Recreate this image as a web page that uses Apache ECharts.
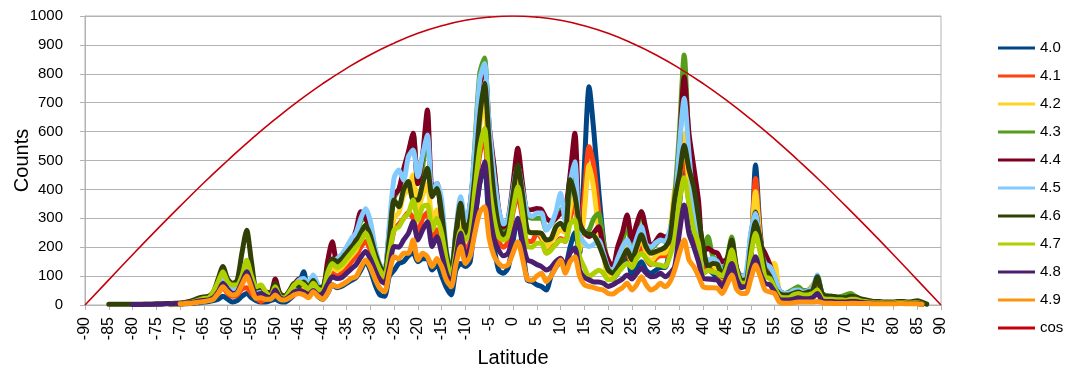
<!DOCTYPE html>
<html>
<head>
<meta charset="utf-8">
<script src="https://cdn.jsdelivr.net/npm/echarts@6/dist/echarts.min.js"></script>
<style>
  html, body { margin: 0; padding: 0; background: #ffffff; }
  #chart { width: 1079px; height: 374px; }
</style>
</head>
<body>
<div id="chart"></div>
<script>
// Latitude bins, one per degree
const latitudes = [];
for (let d = -85; d <= 87; d++) latitudes.push(d);

const seriesNames = ['4.0', '4.1', '4.2', '4.3', '4.4', '4.5', '4.6', '4.7', '4.8', '4.9'];
const seriesColors = ['#004586', '#ff420e', '#ffd320', '#579d1c', '#7e0021', '#83caff', '#314004', '#aecf00', '#4b1f6f', '#ff950e'];

// Counts per latitude bin (-85 .. 87), one array per magnitude
const counts40 = [
  null,null,null,null,null,null,null,null,null,null,
  null,null,null,1,2,3,4,5,6,8,
  10,12,15,20,30,20,10,15,30,40,
  25,15,10,10,15,20,12,10,20,35,
  70,115,40,50,30,20,40,70,60,65,
  75,85,95,120,150,120,70,35,30,100,
  120,144,150,170,180,150,160,160,121,140,
  100,60,35,120,144,133,150,300,420,480,
  280,200,120,110,130,220,300,200,86,81,
  70,64,52,100,130,150,140,200,250,180,
  480,755,600,400,230,110,90,110,140,180,
  100,130,150,120,110,120,130,130,200,300,
  350,500,350,250,180,110,120,110,90,70,
  90,140,80,60,70,150,484,250,120,100,
  60,30,25,25,30,35,30,35,45,55,
  18,15,15,12,12,10,12,12,10,8,
  6,5,5,5,5,5,5,5,5,5,
  5,2,null
];
const counts41 = [
  null,null,null,null,null,null,null,null,null,null,
  null,null,null,2,3,4,5,6,8,12,
  15,18,25,40,60,40,30,35,55,60,
  40,25,12,20,25,40,25,20,30,45,
  60,55,45,60,40,35,80,110,100,110,
  130,150,170,200,220,190,140,100,80,170,
  260,280,300,320,300,250,300,320,230,260,
  200,120,80,180,250,190,220,380,520,580,
  380,320,220,200,220,320,380,300,220,220,
  250,230,180,200,210,230,220,300,350,200,
  380,548,480,330,200,120,100,130,160,190,
  130,170,200,160,140,160,170,170,220,350,
  420,520,380,280,200,130,130,120,110,85,
  110,160,90,70,80,180,438,230,130,110,
  80,40,30,30,40,40,35,45,60,70,
  25,22,20,18,18,16,18,18,13,10,
  9,7,7,6,6,6,7,7,6,6,
  7,3,null
];
const counts42 = [
  null,null,null,null,null,null,null,null,null,null,
  null,null,null,2,3,4,5,6,9,14,
  18,20,28,50,80,55,45,50,80,100,
  70,35,40,35,30,55,30,25,35,55,
  70,65,55,70,50,45,100,130,120,130,
  150,170,190,230,250,220,160,115,100,200,
  300,320,380,400,450,330,380,420,300,330,
  250,150,100,220,300,230,260,450,620,700,
  450,380,260,230,250,350,430,330,250,250,
  250,240,200,220,240,260,250,330,400,190,
  320,484,400,260,180,100,100,140,170,200,
  150,190,230,180,150,170,180,180,250,398,
  450,594,420,320,230,150,150,140,120,95,
  120,180,100,80,90,200,392,220,144,140,
  144,45,35,35,45,45,40,50,70,80,
  30,25,22,20,20,18,20,20,15,12,
  10,8,8,7,7,7,8,8,7,7,
  8,4,null
];
const counts43 = [
  null,null,null,null,null,null,null,null,null,null,
  null,null,null,3,4,5,6,8,12,18,
  22,25,35,60,100,70,55,60,100,130,
  100,45,50,45,40,65,35,30,45,65,
  85,80,70,85,65,55,120,150,140,155,
  180,210,240,290,300,260,190,130,115,250,
  370,400,450,520,590,420,480,600,380,410,
  300,170,110,240,350,270,330,560,800,855,
  580,480,320,260,290,400,500,400,310,300,
  300,300,260,280,300,330,300,400,450,260,
  250,260,300,317,220,150,120,180,220,280,
  200,260,323,240,195,210,225,220,250,375,
  600,865,560,420,320,180,236,170,150,120,
  160,235,120,95,100,230,323,200,150,130,
  95,50,40,45,55,63,50,50,60,90,
  40,32,30,28,30,35,40,30,20,15,
  12,10,10,8,8,8,10,10,8,8,
  10,5,null
];
const counts44 = [
  null,null,null,null,null,null,null,null,null,null,
  null,null,null,3,4,5,6,8,12,18,
  22,25,35,60,100,70,55,60,100,130,
  100,45,50,45,40,90,35,30,45,70,
  90,80,70,90,65,55,150,219,150,160,
  185,215,260,323,300,260,190,135,115,260,
  380,400,470,530,594,420,520,675,400,420,
  300,170,110,240,360,270,350,520,760,820,
  620,480,330,270,300,420,542,420,329,330,
  334,330,300,290,300,318,330,450,594,290,
  250,237,250,271,200,156,130,200,250,311,
  225,280,323,260,202,220,242,235,250,330,
  550,790,594,478,363,184,196,185,179,150,
  160,200,125,100,100,240,320,210,179,140,
  90,50,40,40,45,50,45,50,60,95,
  38,30,28,25,25,22,25,25,20,15,
  12,10,10,8,8,8,10,10,8,8,
  10,5,null
];
const counts45 = [
  null,null,null,null,null,null,null,null,null,null,
  null,null,null,3,4,5,6,8,12,18,
  22,25,35,70,100,70,55,60,100,140,
  100,45,50,40,30,65,35,30,45,65,
  86,92,75,104,70,55,110,150,160,175,
  200,230,250,300,334,290,200,140,121,280,
  440,467,432,513,536,444,520,588,375,421,
  363,190,121,260,375,290,350,550,780,836,
  620,450,330,280,300,400,480,400,320,306,
  318,318,260,280,320,387,290,420,496,240,
  215,202,210,225,180,130,120,160,200,225,
  180,230,271,210,200,215,225,220,260,330,
  550,715,525,340,248,144,156,160,150,110,
  150,190,120,98,110,250,317,200,144,133,
  100,50,40,40,50,52,45,50,60,104,
  40,30,28,25,25,22,25,25,20,15,
  12,10,10,8,8,8,10,10,8,8,
  10,5,null
];
const counts46 = [
  3,3,3,3,3,3,3,3,3,3,
  4,4,5,5,6,7,9,12,18,25,
  28,30,45,90,133,90,75,85,180,259,
  150,58,62,45,35,75,40,30,50,75,
  65,80,60,85,60,62,125,160,150,160,
  180,200,220,250,277,240,180,135,110,230,
  363,340,400,427,363,363,420,473,375,403,
  317,179,110,250,352,248,300,450,650,767,
  560,380,271,240,260,380,484,380,259,250,
  250,248,225,230,270,283,260,433,380,280,
  250,245,240,210,168,122,110,130,160,191,
  156,200,243,200,179,185,191,200,230,363,
  450,553,470,409,306,202,133,144,140,98,
  150,225,130,86,86,200,288,225,121,100,
  60,40,35,35,40,45,40,45,50,98,
  40,30,30,28,25,25,30,28,22,18,
  15,12,12,10,10,10,12,12,10,12,
  15,10,3
];
const counts47 = [
  null,null,null,null,null,null,null,null,null,null,
  null,null,null,3,4,5,6,8,12,18,
  23,25,46,80,115,80,69,70,100,155,
  100,63,69,45,29,63,29,25,45,69,
  80,70,55,75,55,50,110,144,130,140,
  160,180,200,220,248,210,160,121,98,180,
  260,271,300,317,363,294,340,346,259,300,
  248,156,98,180,259,225,250,400,540,611,
  420,300,236,225,240,330,409,320,202,200,
  214,214,179,190,210,225,220,280,295,168,
  130,98,110,120,110,87,90,110,130,144,
  130,160,179,160,144,140,138,133,170,230,
  360,440,350,260,213,110,120,115,110,100,
  130,190,120,75,75,170,248,179,98,92,
  60,30,25,25,35,40,35,35,40,52,
  25,20,20,18,18,16,20,20,15,12,
  10,8,8,7,7,7,8,8,7,7,
  8,4,null
];
const counts48 = [
  null,null,null,null,null,2,2,2,3,3,
  3,3,4,4,5,5,6,8,10,14,
  16,18,25,45,75,55,40,45,80,115,
  75,35,40,30,25,52,25,20,30,45,
  50,45,35,50,35,40,70,98,92,95,
  110,125,140,165,185,160,120,87,75,133,
  202,200,225,248,288,225,260,288,202,236,
  179,110,75,160,248,167,200,300,420,496,
  330,230,190,170,180,240,294,220,156,150,
  140,133,121,130,150,162,133,180,197,120,
  95,87,80,80,75,64,70,80,90,104,
  90,110,127,110,98,100,110,98,110,133,
  250,346,248,202,150,92,90,88,86,63,
  100,144,90,63,63,120,167,110,75,70,
  45,20,17,17,20,25,22,22,25,40,
  15,12,12,10,10,10,12,12,10,8,
  7,6,6,5,5,5,6,6,5,5,
  6,3,null
];
const counts49 = [
  null,null,null,null,null,null,null,null,null,null,
  null,null,null,null,null,4,5,6,8,10,
  12,15,20,40,63,45,35,40,70,100,
  60,23,25,20,20,35,20,17,25,35,
  40,35,25,46,30,20,40,70,63,70,
  80,92,98,130,156,130,90,58,46,110,
  167,160,179,179,225,156,179,167,133,161,
  133,86,63,140,202,144,170,250,320,340,
  230,170,144,133,140,180,219,160,90,86,
  100,110,81,100,130,156,110,150,167,100,
  70,64,60,55,52,40,38,50,60,75,
  52,70,98,70,52,60,75,63,80,121,
  180,225,156,133,100,63,60,60,58,40,
  70,104,55,40,40,90,138,98,52,45,
  40,10,6,6,8,10,10,10,10,12,
  8,6,6,5,5,5,6,6,5,5,
  5,4,4,4,4,4,5,5,4,4,
  4,2,null
];
const allCounts = [counts40, counts41, counts42, counts43, counts44, counts45, counts46, counts47, counts48, counts49];

// Reference curve: 1000 * cos(latitude), sampled every 5 degrees
const cosLatitudes = [-90,-85,-80,-75,-70,-65,-60,-55,-50,-45,-40,-35,-30,-25,-20,-15,-10,-5,0,5,10,15,20,25,30,35,40,45,50,55,60,65,70,75,80,85,90];
const cosValues = [0,87,174,259,342,423,500,574,643,707,766,819,866,906,940,966,985,996,1000,996,985,966,940,906,866,819,766,707,643,574,500,423,342,259,174,87,0];

const FONT = 'Liberation Sans, Arial, sans-serif';

const series = seriesNames.map((name, i) => ({
  name: name,
  type: 'line',
  data: latitudes.map((lat, k) => [lat, allCounts[i][k]]),
  smooth: 0.25,
  showSymbol: false,
  symbol: 'none',
  connectNulls: false,
  lineStyle: { width: 5, color: seriesColors[i], cap: 'round', join: 'round' },
  itemStyle: { color: seriesColors[i] },
  z: 2 + i,
  animation: false
}));

series.push({
  name: 'cos',
  type: 'line',
  data: cosLatitudes.map((lat, k) => [lat, cosValues[k]]),
  smooth: true,
  showSymbol: false,
  symbol: 'none',
  lineStyle: { width: 1.6, color: '#c5000b' },
  itemStyle: { color: '#c5000b' },
  z: 20,
  animation: false
});

const chart = echarts.init(document.getElementById('chart'), null, { renderer: 'canvas' });
chart.setOption({
  backgroundColor: '#ffffff',
  animation: false,
  grid: {
    left: 85, right: 138, top: 16, bottom: 69,
    outerBoundsMode: 'none',
    containLabel: false,
    show: true, borderColor: '#b3b3b3', borderWidth: 1, backgroundColor: 'transparent'
  },
  legend: {
    orient: 'vertical',
    left: 993,
    top: 34,
    itemWidth: 37,
    itemHeight: 3,
    itemGap: 10,
    icon: 'rect',
    textStyle: { fontFamily: FONT, fontSize: 15, color: '#000', lineHeight: 18 },
    data: seriesNames.concat(['cos'])
  },
  xAxis: {
    type: 'value',
    min: -90, max: 90, interval: 5,
    name: 'Latitude',
    nameLocation: 'middle',
    nameGap: 43,
    nameMoveOverlap: false,
    nameTextStyle: { fontFamily: FONT, fontSize: 20, color: '#000' },
    axisLine: { show: true, onZero: false, lineStyle: { color: '#b3b3b3', width: 1 } },
    axisTick: { show: true, length: 5, lineStyle: { color: '#b3b3b3' } },
    axisLabel: { rotate: 90, margin: 12, fontFamily: FONT, fontSize: 16, color: '#000' },
    splitLine: { show: false }
  },
  yAxis: {
    type: 'value',
    min: 0, max: 1000, interval: 100,
    name: 'Counts',
    nameLocation: 'middle',
    nameGap: 53,
    nameMoveOverlap: false,
    nameTextStyle: { fontFamily: FONT, fontSize: 20, color: '#000' },
    axisLine: { show: true, onZero: false, lineStyle: { color: '#b3b3b3', width: 1 } },
    axisTick: { show: true, length: 5, lineStyle: { color: '#b3b3b3' } },
    axisLabel: { margin: 22, fontFamily: FONT, fontSize: 15, color: '#000', formatter: (v) => String(v) },
    splitLine: { show: true, lineStyle: { color: '#b3b3b3', width: 1 } }
  },
  series: series
});
</script>
</body>
</html>
